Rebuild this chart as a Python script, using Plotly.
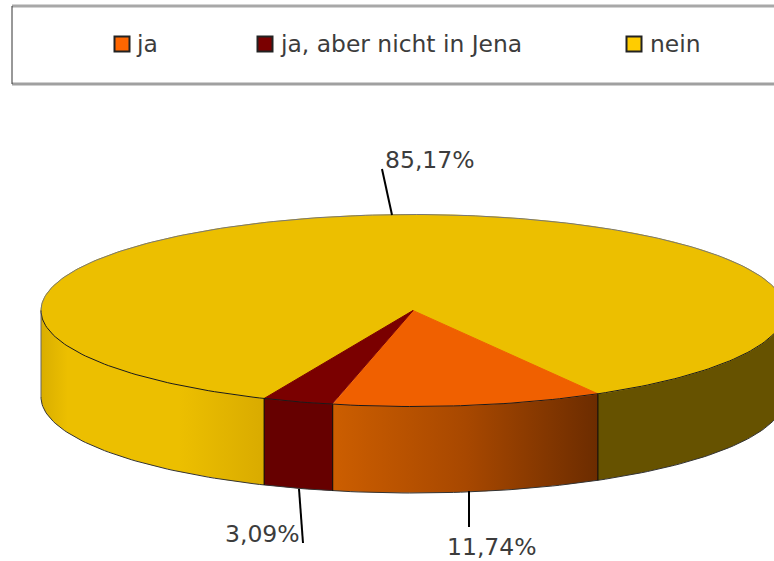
import numpy as np
import plotly.graph_objects as go

# Data
categories = ["ja", "ja, aber nicht in Jena", "nein"]
percent_values = [11.74, 3.09, 85.17]

# Styles
top_colors = ["#f06000", "#7a0000", "#ecbf00"]
swatch_colors = ["#ff6600", "#7a0000", "#ffcc00"]
side_scales = [
    [[0, "#cc5e00"], [0.5, "#a84800"], [1, "#6c2c00"]],
    [[0, "#660000"], [1, "#660000"]],
    [[0, "#d9ae00"], [0.12, "#ecbf00"], [0.62, "#ecbf00"], [1, "#d9ab00"]],
]
RIGHT_YELLOW = "#665200"
TEXT = "#3c3c3c"
EDGE = "#1a1a1a"

# Pie geometry in the pixel-mapped plot area
CX, CY, RX, RY, DEPTH = 413, 310.5, 372, 96, 86.5
START = 60.2
legend_x = [122, 265, 634]
legend_text_x = [134, 278, 648]
LEGEND_Y = 44
label_pos = [(492, 547), (262, 534), (430, 160)]
leaders = [((469, 491), (469, 527)), ((299, 489), (303, 543)), ((392, 215), (382, 169))]


def arc(a, b, dy=0, n=160):
    t = np.radians(np.linspace(a, b, n))
    return CX + RX * np.cos(t), CY + RY * np.sin(t) + dy


def side(a, b, **kw):
    x1, y1 = arc(a, b)
    x2, y2 = arc(b, a, DEPTH)
    return go.Scatter(x=np.r_[x1, x2, x1[0]], y=np.r_[y1, y2, y1[0]], mode="lines",
                      fill="toself", line=dict(width=0), hoverinfo="skip",
                      showlegend=False, **kw)


fig = go.Figure()

# Slice angles follow from the values
bounds = [START]
for v in percent_values:
    bounds.append(bounds[-1] + v * 3.6)

# Side walls (only the front half, 0-180 degrees, can be seen)
y_start = bounds[2]
y_end = bounds[3]
fig.add_trace(side(0, y_end - 360, fillcolor=RIGHT_YELLOW))
fig.add_trace(side(y_start, 180, fillgradient=dict(type="horizontal", colorscale=side_scales[2])))
fig.add_trace(side(bounds[1], bounds[2], fillcolor="#660000"))
fig.add_trace(side(bounds[0], bounds[1], fillgradient=dict(type="horizontal", colorscale=side_scales[0])))

# Top faces
for i in [2, 0, 1]:
    x, y = arc(bounds[i], bounds[i + 1], n=400)
    fig.add_trace(go.Scatter(x=np.r_[CX, x, CX], y=np.r_[CY, y, CY], mode="lines", fill="toself",
                             fillcolor=top_colors[i], line=dict(width=1, color=top_colors[i]),
                             name=categories[i],
                             text=f"{percent_values[i]:.2f}%".replace(".", ","), hoverinfo="name+text",
                             showlegend=False))

# Outlines
x, y = arc(180, 360)
fig.add_trace(go.Scatter(x=x, y=y, mode="lines", line=dict(color="#777777", width=1),
                         hoverinfo="skip", showlegend=False))
x, y = arc(0, 180)
fig.add_trace(go.Scatter(x=x, y=y, mode="lines", line=dict(color=EDGE, width=1),
                         hoverinfo="skip", showlegend=False))
x, y = arc(0, 180, DEPTH)
fig.add_trace(go.Scatter(x=x, y=y, mode="lines", line=dict(color="#333333", width=1),
                         hoverinfo="skip", showlegend=False))
for b in [bounds[0], bounds[1], bounds[2], 180]:
    x1, y1 = arc(b, b, n=1)
    col = "#666666" if b == 180 else "#000000"
    fig.add_trace(go.Scatter(x=[x1[0], x1[0]], y=[y1[0], y1[0] + DEPTH], mode="lines",
                             line=dict(color=col, width=1), hoverinfo="skip", showlegend=False))

# Percentage labels with leader lines
for v, (lx, ly), ((x0, y0), (x1, y1)) in zip(percent_values, label_pos, leaders):
    fig.add_trace(go.Scatter(x=[x0, x1], y=[y0, y1], mode="lines", line=dict(color="#000000", width=2),
                             hoverinfo="skip", showlegend=False))
    fig.add_annotation(x=lx, y=ly, text=f"{v:.2f}%".replace(".", ","), showarrow=False,
                       font=dict(family="DejaVu Sans", size=23.5, color=TEXT))

# Legend row
for cat, col, lx, tx in zip(categories, swatch_colors, legend_x, legend_text_x):
    fig.add_trace(go.Scatter(x=[lx], y=[LEGEND_Y], mode="markers",
                             marker=dict(symbol="square", size=15, color=col,
                                         line=dict(color="#222222", width=2)),
                             hoverinfo="skip", showlegend=False))
    fig.add_annotation(x=tx, y=LEGEND_Y, text=cat, showarrow=False, xanchor="left",
                       font=dict(family="DejaVu Sans", size=23.4, color=TEXT))

# Legend frame
fig.add_shape(type="line", x0=12, x1=774, y0=6, y1=6, line=dict(color="#a8a8a8", width=3))
fig.add_shape(type="line", x0=12, x1=774, y0=84, y1=84, line=dict(color="#a0a0a0", width=3))
fig.add_shape(type="line", x0=12, x1=12, y0=6, y1=84, line=dict(color="#333333", width=1))

fig.update_xaxes(range=[0, 774], visible=False, fixedrange=True)
fig.update_yaxes(range=[561, 0], visible=False, fixedrange=True)
fig.update_layout(width=774, height=561, margin=dict(l=0, r=0, t=0, b=0),
                  paper_bgcolor="white", plot_bgcolor="white", showlegend=False)
fig.write_html("out.html", config={"displayModeBar": False},
               post_script="document.body.style.margin='0';document.body.style.overflow='hidden';")
